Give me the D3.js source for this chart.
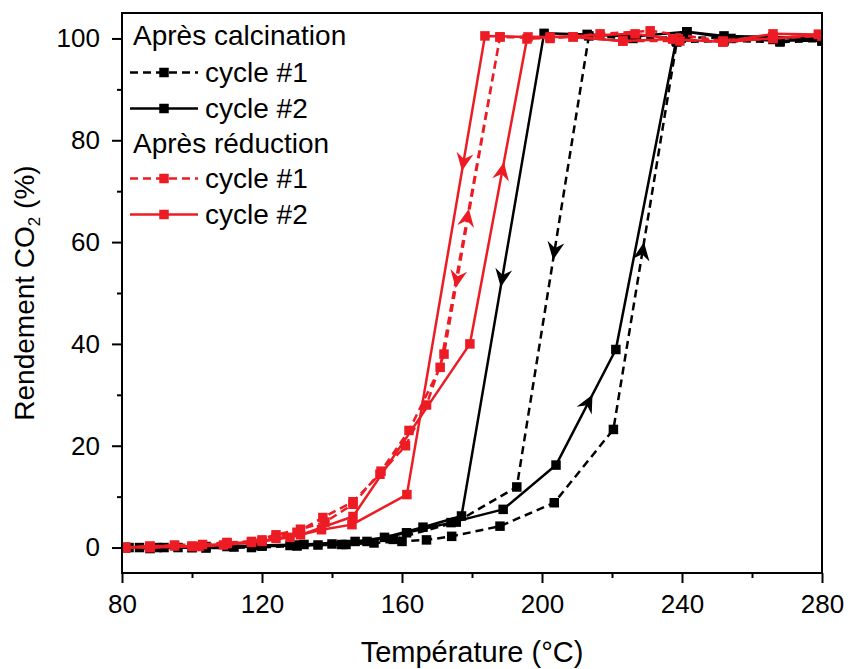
<!DOCTYPE html>
<html><head><meta charset="utf-8">
<script src="https://cdn.jsdelivr.net/npm/d3@7"></script>
<style>body{margin:0;background:#fff}svg{display:block}</style>
</head><body>
<svg id="c" width="849" height="669"></svg>
<script>
// ---------- DATA ----------
const xTicks = [80, 120, 160, 200, 240, 280];
const xMinor = [100, 140, 180, 220, 260];
const yTicks = [0, 20, 40, 60, 80, 100];
const yMinor = [10, 30, 50, 70, 90];
const legendGroups = ["Après calcination", "Après réduction"];
const legendLabels = ["cycle #1", "cycle #2"];

// Après calcination, cycle #1 (heating then cooling)
const calc1T = [81,88,96,104,112,120,128,136,144,152,160,167,174.2,188,203.5,220.4,238.5,252,268,280,
                280,266,252,241,226,213.4,192.8,175.5,157.5,142.8,130,117,104,92,82];
const calc1Y = [0,-0.2,0,0.2,0.1,0.3,0.4,0.5,0.6,0.9,1.2,1.5,2.2,4.2,8.8,23.2,99.3,99.5,99.3,99.5,
                99.5,99.8,100,100.3,100,100.5,11.9,5,1.6,0.6,0.3,0,-0.1,0,0];
// Après calcination, cycle #2
const calc2T = [81,90,100,110,120,130,140,150,161.3,174,188.9,204,221.1,238.3,241.4,254,268,280,
                280,266,252,241.4,226,212.9,200.6,177,166,155,146.6,132,118,100,85];
const calc2Y = [0,0,0,0.2,0.3,0.5,0.7,1.2,2.9,4.9,7.5,16.2,38.9,99.5,101.3,100,99.5,100,
                100,100.3,100.5,101.3,100.4,100.8,101,6.2,4,2,1.2,0.6,0.4,0,0];
// Après réduction, cycle #1
const red1T = [81,88,95,103,110,117,124,131,138,146,154,162,170.9,188,202.3,216.6,230.9,251.7,280,
               280,266,239.4,223.1,208.9,188,172,167,161,153.7,146,137.4,130,120,110,100,88,81];
const red1Y = [0,0.2,0.5,0.6,1,1.2,2.5,3.6,5,8.5,15,23,35.4,100.3,100,100.9,101.5,99.5,100.5,
               100.5,100,99.5,99.5,100.3,100.3,38,28,20,14.4,9,5.9,3,1.5,0.8,0.3,0,0];
// Après réduction, cycle #2
const red2T = [81,88,95,102,109,117,124,131,146,179.4,195.7,202.3,226.6,237.4,251.7,266,279,
               279,266,251.7,237.4,223.1,208.9,196,183.7,161.4,145.7,137,128,120,110,100,88,81];
const red2Y = [0,0.3,0.3,0.2,0.5,1,1.8,2.5,6.1,40,99.9,100.3,100.9,99.9,99.3,100,100.8,
               100.8,100.9,99.3,99.9,99.5,100.3,100.3,100.5,10.4,4.5,3.5,2,1.2,0.8,0.2,0,0];

// direction arrows: series, segment endpoints (data), fraction along segment
const arrowSeries = ["red2","red2","red1","red1","calc2","calc1","calc1","calc2"];
const arrowFrom = [[183.7,100.5],[179.4,40],[170.9,35.4],[188,100.3],[200.6,101],[213.4,100.5],[220.4,23.2],[204,16.2]];
const arrowTo   = [[161.4,10.4],[195.7,99.9],[188,100.3],[172,38],[177,6.2],[192.8,11.9],[238.5,99.3],[221.1,38.9]];
const arrowT    = [0.275,0.567,0.453,0.764,0.507,0.477,0.46,0.54];

// ---------- STYLE / LAYOUT ----------
const BLACK = "#000000", RED = "#ed1c24";
const margin = {left:122, right:27, top:13, bottom:96};
const W = 849, H = 669;
const FONT = "'Liberation Sans', Arial, sans-serif";

const series = [
  {key:"calc1", T:calc1T, Y:calc1Y, color:BLACK, dash:"8,5"},
  {key:"calc2", T:calc2T, Y:calc2Y, color:BLACK, dash:null},
  {key:"red1",  T:red1T,  Y:red1Y,  color:RED,   dash:"8,5"},
  {key:"red2",  T:red2T,  Y:red2Y,  color:RED,   dash:null},
];

const svg = d3.select("#c");
const x = d3.scaleLinear().domain([80, 280]).range([margin.left, W - margin.right]);
const y = d3.scaleLinear().domain([-5, 105]).range([H - margin.bottom, margin.top]);

svg.append("defs").append("clipPath").attr("id","clip")
  .append("rect").attr("x", x(80)).attr("y", y(105))
  .attr("width", x(280)-x(80)).attr("height", y(-5)-y(105));

const plot = svg.append("g").attr("clip-path","url(#clip)");
const line = d3.line().x(d => x(d[0])).y(d => y(d[1]));

series.forEach(s => {
  const pts = s.T.map((t,i) => [t, s.Y[i]]);
  s.pts = pts;
  const g = plot.append("g");
  g.append("path").datum(pts).attr("d", line)
    .attr("fill","none").attr("stroke", s.color).attr("stroke-width", 2.5)
    .attr("stroke-linejoin","round")
    .attr("stroke-dasharray", s.dash);
  g.selectAll("rect").data(pts).join("rect")
    .attr("x", d => x(d[0]) - 4.75).attr("y", d => y(d[1]) - 4.75)
    .attr("width", 9.5).attr("height", 9.5).attr("fill", s.color);
});

// arrows
const colorOf = k => series.find(s => s.key === k).color;
arrowSeries.forEach((k, i) => {
  const ax = x(arrowFrom[i][0]), ay = y(arrowFrom[i][1]);
  const bx = x(arrowTo[i][0]), by = y(arrowTo[i][1]);
  const px = ax + (bx-ax)*arrowT[i], py = ay + (by-ay)*arrowT[i];
  const ang = Math.atan2(by-ay, bx-ax) * 180 / Math.PI;
  svg.append("path")
    .attr("d","M9,0 L-9,-8.5 L-3,0 L-9,8.5 Z")
    .attr("transform",`translate(${px},${py}) rotate(${ang})`)
    .attr("fill", colorOf(k));
});

// frame
svg.append("rect").attr("x", x(80)).attr("y", y(105))
  .attr("width", x(280)-x(80)).attr("height", y(-5)-y(105))
  .attr("fill","none").attr("stroke","#000").attr("stroke-width",2);

// axes
function styleAxis(g){
  g.select(".domain").remove();
  g.selectAll("line").attr("stroke","#000").attr("stroke-width",2);
  g.selectAll("text").attr("font-family",FONT).attr("font-size",26).attr("fill","#000");
}
svg.append("g").attr("transform",`translate(0,${y(-5)})`)
  .call(d3.axisBottom(x).tickValues(xTicks).tickSize(10).tickPadding(12).tickFormat(d3.format("d")))
  .call(styleAxis);
svg.append("g").attr("transform",`translate(0,${y(-5)})`)
  .call(d3.axisBottom(x).tickValues(xMinor).tickSize(5).tickFormat(""))
  .call(styleAxis);
svg.append("g").attr("transform",`translate(${x(80)},0)`)
  .call(d3.axisLeft(y).tickValues(yTicks).tickSize(10).tickPadding(12).tickFormat(d3.format("d")))
  .call(styleAxis);
svg.append("g").attr("transform",`translate(${x(80)},0)`)
  .call(d3.axisLeft(y).tickValues(yMinor).tickSize(5).tickFormat(""))
  .call(styleAxis);

// axis titles
svg.append("text").attr("x", (x(80)+x(280))/2).attr("y", 662)
  .attr("text-anchor","middle").attr("font-family",FONT).attr("font-size",29)
  .text("Température (°C)");
const yt = svg.append("text")
  .attr("transform",`translate(34,${(y(-5)+y(105))/2}) rotate(-90)`)
  .attr("text-anchor","middle").attr("font-family",FONT).attr("font-size",28);
yt.append("tspan").text("Rendement CO");
yt.append("tspan").attr("font-size",17).attr("dy",6).text("2");
yt.append("tspan").attr("dy",-6).text(" (%)");

// legend
const lg = svg.append("g").attr("font-family",FONT).attr("font-size",28);
const headerY = [45, 153];
const rowY = [[82,118],[188,224]];
legendGroups.forEach((grp, gi) => {
  lg.append("text").attr("x",133).attr("y",headerY[gi]).text(grp);
  legendLabels.forEach((lab, li) => {
    const s = series[gi*2 + li];
    const by = rowY[gi][li];
    const ly = by - 9.5;
    lg.append("line").attr("x1",130).attr("x2",198).attr("y1",ly).attr("y2",ly)
      .attr("stroke",s.color).attr("stroke-width",2.5).attr("stroke-dasharray",s.dash);
    lg.append("rect").attr("x",164-4.75).attr("y",ly-4.75).attr("width",9.5).attr("height",9.5).attr("fill",s.color);
    lg.append("text").attr("x",205).attr("y",by).text(lab);
  });
});
</script>
</body></html>
